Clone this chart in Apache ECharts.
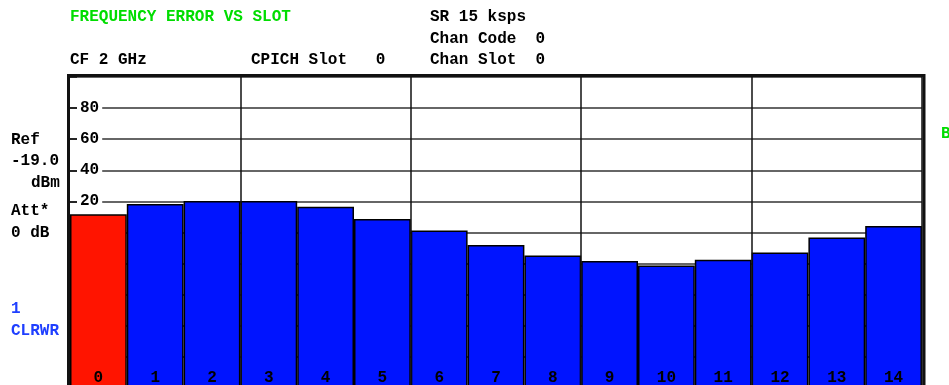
<!DOCTYPE html>
<html lang="en">
<head>
    <meta charset="UTF-8">
    <title>Frequency Error vs Slot</title>
    <script src="https://cdn.jsdelivr.net/npm/echarts@6.0.0/dist/echarts.min.js"></script>
</head>
<style>
html,body{margin:0;padding:0;overflow:hidden;background:#fff;}
#chartBox{width:949px;height:388px;}
</style>
<body>
    <div id="chartBox"></div>
</body>
<script>
// slot numbers on the x axis
const SLOTS = ['0','1','2','3','4','5','6','7','8','9','10','11','12','13','14'];
// frequency error per slot
const FREQ_ERR = [11.8, 18.4, 20.3, 20.3, 16.6, 8.7, 1.3, -8.0, -14.8, -18.3, -21.2, -17.6, -12.9, -3.2, 4.1];
// y scale of the display
const Y_MIN = -100;
const Y_MAX = 100;
const Y_STEP = 20;
const CPICH_SLOT = 0;

// header / side texts of the analyzer screen
const HEADER_TEXT = [
    {text: 'FREQUENCY ERROR VS SLOT', x: 70, y: 17, color: '#00dd00'},
    {text: 'SR 15 ksps', x: 430, y: 17},
    {text: 'Chan Code  0', x: 430, y: 39},
    {text: 'CF 2 GHz', x: 70, y: 60},
    {text: 'CPICH Slot   0', x: 251, y: 60},
    {text: 'Chan Slot  0', x: 430, y: 60}
];
const SIDE_TEXT = [
    {text: 'Ref', x: 11, y: 140},
    {text: '-19.0', x: 11, y: 161},
    {text: 'dBm', x: 31, y: 183},
    {text: 'Att*', x: 11, y: 211},
    {text: '0 dB', x: 11, y: 233},
    {text: '1', x: 11, y: 309, color: '#1f3fff'},
    {text: 'CLRWR', x: 11, y: 331, color: '#1f3fff'},
    {text: 'B', x: 941, y: 134, color: '#00dd00'}
];

const FONT = 'bold 16px "Liberation Mono", "Courier New", monospace';
const TXT = {fontFamily: '"Liberation Mono", "Courier New", monospace', fontWeight: 'bold', fontSize: 16, color: '#000'};

function textGraphics(list) {
    return list.map(t => ({
        type: 'text',
        x: t.x,
        y: t.y,
        style: {
            text: t.text,
            font: FONT,
            fill: t.color || '#000',
            verticalAlign: 'middle'
        }
    }));
}

function generateChartOption() {
    let graphic = textGraphics(HEADER_TEXT).concat(textGraphics(SIDE_TEXT));
    // screen frame
    graphic.push({
        type: 'polyline',
        z: 100,
        shape: {points: [[68.5, 390], [68.5, 75.5], [924, 75.5], [924, 390]]},
        style: {stroke: '#111', lineWidth: 3, fill: null}
    });

    return {
        animation: false,
        grid: {left: 70, right: 27, top: 77, bottom: 0},
        xAxis: {
            type: 'category',
            data: SLOTS,
            z: 5,
            axisLine: {show: false},
            axisTick: {show: false},
            axisLabel: Object.assign({inside: true, margin: 2, interval: 0}, TXT),
            splitLine: {
                show: true,
                interval: function (i) { return i > 0 && i % 3 === 0; },
                lineStyle: {color: '#111', width: 1.5}
            }
        },
        yAxis: [
            {
                type: 'value',
                min: Y_MIN,
                max: Y_MAX,
                interval: Y_STEP,
                axisLine: {show: false},
                axisTick: {show: true, inside: true, length: 7, lineStyle: {color: '#111', width: 1.5}},
                axisLabel: Object.assign({
                    inside: true,
                    margin: 7,
                    backgroundColor: '#fff',
                    padding: [0, 3],
                    formatter: v => (v > 0 && v < Y_MAX) ? String(v) : ''
                }, TXT),
                splitLine: {lineStyle: {color: '#333', width: 1.5}}
            },
            {
                // bars grow from the bottom of the screen
                type: 'value',
                min: 0,
                max: Y_MAX - Y_MIN,
                show: false
            }
        ],
        series: [
            {
                type: 'bar',
                yAxisIndex: 1,
                barWidth: '100%',
                barCategoryGap: 0,
                itemStyle: {color: '#0014ff', borderColor: '#000', borderWidth: 1.5},
                data: FREQ_ERR.map((v, i) => {
                    let item = {value: v - Y_MIN};
                    if (i === CPICH_SLOT) item.itemStyle = {color: '#ff1400'};
                    return item;
                })
            }
        ],
        graphic: graphic
    };
}

let chartObj = echarts.init(document.getElementById('chartBox'));
chartObj.setOption(generateChartOption());
</script>
</html>
